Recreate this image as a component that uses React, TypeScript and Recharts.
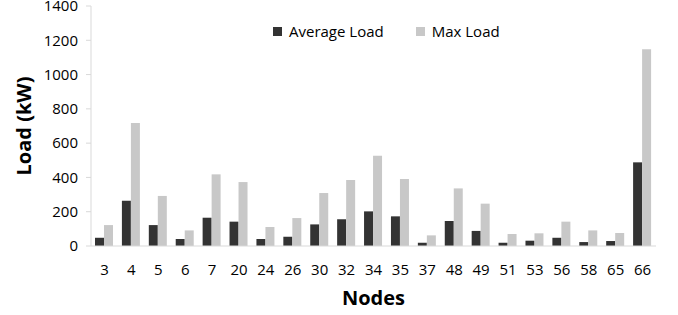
import { ComposedChart, Bar, XAxis, YAxis } from "recharts";

const nodes = ["3", "4", "5", "6", "7", "20", "24", "26", "30", "32", "34", "35", "37", "48", "49", "51", "53", "56", "58", "65", "66"];
const averageLoad = [48, 264, 122, 41, 165, 142, 41, 54, 126, 156, 202, 173, 19, 146, 88, 19, 31, 48, 23, 29, 488];
const maxLoad = [122, 718, 292, 91, 418, 373, 111, 163, 309, 385, 527, 391, 62, 336, 247, 70, 74, 142, 91, 76, 1148];
const yTicks = [0, 200, 400, 600, 800, 1000, 1200, 1400];
const boundaryTicks = Array.from({ length: nodes.length + 1 }, (_, i) => i);

const FONT = "'Open Sans', sans-serif";
const AXIS = "#d9d9d9";
const DARK = "#333333";
const LIGHT = "#c8c8c8";

const data = nodes.map((n, i) => ({
  node: n,
  idx: i + 0.5,
  "Average Load": averageLoad[i],
  "Max Load": maxLoad[i],
}));

// legend drawn as plain html over the chart (excel style, top middle)
function LegendBox() {
  const items = [
    { name: "Average Load", color: DARK },
    { name: "Max Load", color: LIGHT },
  ];
  return (
    <div
      style={{
        position: "absolute",
        left: 273,
        top: 20,
        display: "flex",
        gap: 32,
        fontFamily: FONT,
        fontSize: 15,
        lineHeight: "22px",
        color: "#000",
      }}
    >
      {items.map((it) => (
        <div key={it.name} style={{ display: "flex", alignItems: "center", gap: 7 }}>
          <span style={{ width: 9, height: 9, background: it.color, display: "inline-block" }} />
          <span>{it.name}</span>
        </div>
      ))}
    </div>
  );
}

export default function App() {
  return (
    <div style={{ position: "absolute", left: 0, top: 0, width: 678, height: 315, background: "#fff" }}>
      <ComposedChart
        width={678}
        height={315}
        data={data}
        margin={{ top: 6, right: 22, left: 0, bottom: 0 }}
        barGap={0}
      >
        <XAxis
          xAxisId="bounds"
          dataKey="idx"
          type="number"
          domain={[0, nodes.length]}
          ticks={boundaryTicks}
          height={0}
          axisLine={false}
          tickLine={{ stroke: AXIS }}
          tickSize={5}
          tickFormatter={() => ""}
        />
        <XAxis
          dataKey="node"
          height={69}
          axisLine={{ stroke: AXIS }}
          tickLine={false}
          tickMargin={12}
          interval={0}
          tick={{ fontSize: 15, fontFamily: FONT, fill: "#000" }}
          label={{
            value: "Nodes",
            position: "insideBottom",
            offset: 10,
            style: { fontSize: 20, fontWeight: 700, fontFamily: FONT, fill: "#000" },
          }}
        />
        <YAxis
          width={91}
          domain={[0, 1400]}
          ticks={yTicks}
          interval={0}
          axisLine={{ stroke: AXIS }}
          tickLine={{ stroke: AXIS }}
          tickSize={5}
          tickMargin={8}
          tick={{ fontSize: 15, fontFamily: FONT, fill: "#000" }}
          label={{
            value: "Load (kW)",
            angle: -90,
            position: "insideLeft",
            offset: 24,
            style: { fontSize: 20, fontWeight: 700, fontFamily: FONT, fill: "#000", textAnchor: "middle" },
          }}
        />
        <Bar dataKey="Average Load" fill={DARK} barSize={9} isAnimationActive={false} />
        <Bar dataKey="Max Load" fill={LIGHT} barSize={9} isAnimationActive={false} />
      </ComposedChart>
      <LegendBox />
    </div>
  );
}
